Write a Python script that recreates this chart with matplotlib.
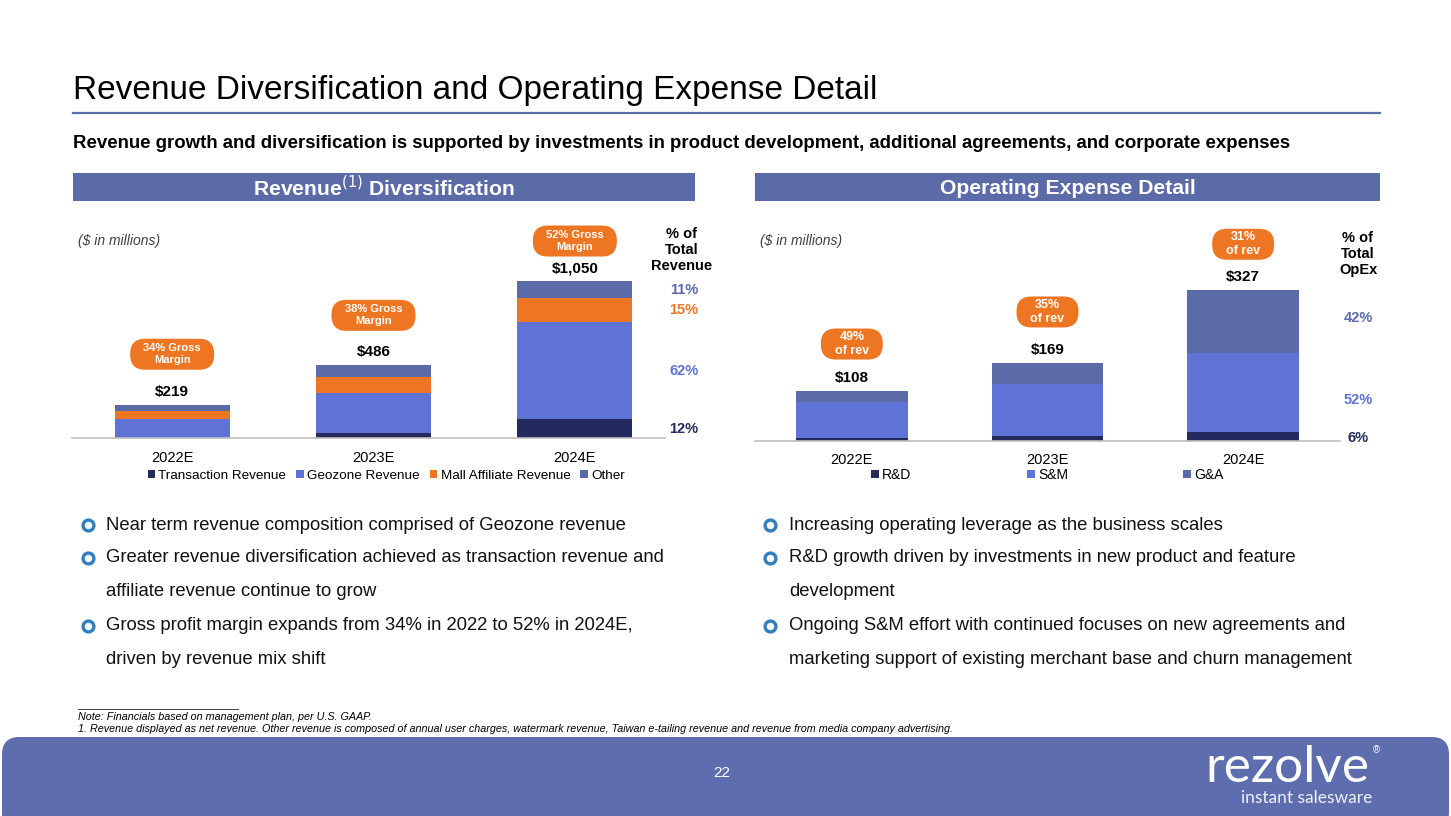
import matplotlib
matplotlib.use("Agg")
import matplotlib.pyplot as plt
import matplotlib.transforms as mtransforms
from matplotlib.patches import FancyBboxPatch, Rectangle
from matplotlib.lines import Line2D

plt.rcParams['font.family'] = ['Liberation Sans', 'DejaVu Sans']

# ---------------- data ----------------
years = ["2022E", "2023E", "2024E"]

rev_series = ["Transaction Revenue", "Geozone Revenue", "Mall Affiliate Revenue", "Other"]
rev_transaction = [2, 31, 126]
rev_geozone = [126, 272, 651]
rev_mall = [51, 106, 158]
rev_other = [40, 77, 115]
rev_totals = ["$219", "$486", "$1,050"]
rev_margin = ["34% Gross\nMargin", "38% Gross\nMargin", "52% Gross\nMargin"]
rev_pct = ["12%", "62%", "15%", "11%"]

opex_series = ["R&D", "S&M", "G&A"]
opex_rd = [6, 11, 20]
opex_sm = [79, 113, 170]
opex_ga = [23, 45, 137]
opex_totals = ["$108", "$169", "$327"]
opex_of_rev = ["49%\nof rev", "35%\nof rev", "31%\nof rev"]
opex_pct = ["6%", "52%", "42%"]

left_bullets = [
    ("Near term revenue composition comprised of Geozone revenue", True),
    ("Greater revenue diversification achieved as transaction revenue and", True),
    ("affiliate revenue continue to grow", False),
    ("Gross profit margin expands from 34% in 2022 to 52% in 2024E,", True),
    ("driven by revenue mix shift", False),
]
right_bullets = [
    ("Increasing operating leverage as the business scales", True),
    ("R&D growth driven by investments in new product and feature", True),
    ("development", False),
    ("Ongoing S&M effort with continued focuses on new agreements and", True),
    ("marketing support of existing merchant base and churn management", False),
]

# ---------------- style ----------------
NAVY = "#252A5E"
GEO = "#5F72D6"
ORANGE = "#EE7623"
OTHER = "#5B6BA8"
BAND = "#5D6DAE"
BULLET = "#2F7FC1"

W, H = 1451, 816
fig = plt.figure(figsize=(W / 100, H / 100), dpi=100)
fig.patch.set_facecolor("white")


def fx(x):
    return x / W


def fy(y):
    return 1 - y / H


def ftext(x, y, s, **kw):
    fig.text(fx(x), fy(y), s, **kw)


# title
ftext(73, 90, "Revenue Diversification and Operating Expense Detail", fontsize=24,
      va="center", ha="left", color="black")
fig.add_artist(Line2D([fx(73), fx(1380)], [fy(113), fy(113)], color=OTHER, lw=1.6))
ftext(73, 144, "Revenue growth and diversification is supported by investments in product development, additional agreements, and corporate expenses",
      fontsize=13.4, fontweight="bold", va="center", ha="left")

# section headers
for x0, x1, label in [(73, 695, r"Revenue$^{(1)}$ Diversification"),
                      (755, 1380, "Operating Expense Detail")]:
    fig.add_artist(Rectangle((fx(x0), fy(201)), fx(x1 - x0), (201 - 173) / H,
                             transform=fig.transFigure, facecolor=OTHER, edgecolor="none"))
    ftext((x0 + x1) / 2, 188, label, fontsize=15.2, fontweight="bold", color="white",
          ha="center", va="center")

# ---------------- charts ----------------
def make_axes(x_left, x_right, base_y, top_y, centers, px_per_unit):
    ax = fig.add_axes([fx(x_left), fy(base_y), fx(x_right - x_left), (base_y - top_y) / H])
    sp = centers[1] - centers[0]
    ax.set_xlim((x_left - centers[0]) / sp, 2 + (x_right - centers[2]) / sp)
    ax.set_ylim(0, (base_y - top_y) / px_per_unit)
    for s in ["top", "right", "left"]:
        ax.spines[s].set_visible(False)
    ax.spines["bottom"].set_color("#BFBFBF")
    ax.spines["bottom"].set_linewidth(1.2)
    ax.set_yticks([])
    ax.set_xticks(range(3))
    ax.set_xticklabels(years, fontsize=10.5)
    ax.tick_params(axis="x", length=0, pad=9)
    ax.patch.set_alpha(0)
    return ax


def bubble(ax, x, y, dy_px, w_px, h_px, text, fs):
    trans = fig.dpi_scale_trans + mtransforms.ScaledTranslation(x, y, ax.transData)
    p = FancyBboxPatch((-w_px / 200, dy_px / 100 - h_px / 200), w_px / 100, h_px / 100,
                       boxstyle="round,pad=0,rounding_size=0.15", transform=trans,
                       facecolor=ORANGE, edgecolor="none", clip_on=False)
    ax.add_artist(p)
    ax.annotate(text, (x, y), xytext=(0, dy_px), textcoords="offset pixels",
                ha="center", va="center", fontsize=fs, fontweight="bold", color="white",
                linespacing=1.25, annotation_clip=False)


# left: revenue
axL = make_axes(72, 665, 438, 225, [172, 373, 575], 0.1495)
xs = range(3)
bw = 0.57
b = [0, 0, 0]
rev_vals = [rev_transaction, rev_geozone, rev_mall, rev_other]
rev_cols = [NAVY, GEO, ORANGE, OTHER]
for name, vals, c in zip(rev_series, rev_vals, rev_cols):
    axL.bar(xs, vals, bw, bottom=b, color=c, label=name, edgecolor="none")
    b = [bi + v for bi, v in zip(b, vals)]
rev_sum = b
rev_bub_dy = [51, 50, 40]
for i in range(3):
    axL.annotate(rev_totals[i], (i, rev_sum[i]), xytext=(0, 13), textcoords="offset pixels",
                 ha="center", va="center", fontsize=11, fontweight="bold")
    bubble(axL, i, rev_sum[i], rev_bub_dy[i], 84, 31, rev_margin[i], 8)

# percent column for 2024E segments
bot = 0
for vals, c, pct in zip(rev_vals, rev_cols, rev_pct):
    mid = bot + vals[2] / 2
    bot += vals[2]
    axL.annotate(pct, (2, mid), xytext=(684 - 575, 0), textcoords="offset pixels",
                 ha="center", va="center", fontsize=10.5, fontweight="bold", color=c,
                 annotation_clip=False)
ftext(682, 250, "% of\nTotal\nRevenue", ha="center", va="center", fontsize=10.5,
      fontweight="bold", linespacing=1.15)
ftext(78, 241, "($ in millions)", fontsize=10, style="italic", color="#404040", va="center")

legL = axL.legend(loc="upper center", bbox_to_anchor=(0.53, -0.125), ncol=4, frameon=False,
                  fontsize=9.7, handlelength=0.55, handleheight=0.55, handletextpad=0.25,
                  columnspacing=0.75, borderaxespad=0)

# right: opex
axR = make_axes(755, 1340, 440.7, 225, [852, 1048, 1243], 0.46)
b = [0, 0, 0]
opex_vals = [opex_rd, opex_sm, opex_ga]
opex_cols = [NAVY, GEO, OTHER]
for name, vals, c in zip(opex_series, opex_vals, opex_cols):
    axR.bar(xs, vals, bw, bottom=b, color=c, label=name, edgecolor="none")
    b = [bi + v for bi, v in zip(b, vals)]
opex_sum = b
opex_bub_dy = [47, 51, 46]
for i in range(3):
    axR.annotate(opex_totals[i], (i, opex_sum[i]), xytext=(0, 13), textcoords="offset pixels",
                 ha="center", va="center", fontsize=11, fontweight="bold")
    bubble(axR, i, opex_sum[i], opex_bub_dy[i], 62, 31, opex_of_rev[i], 9)
bot = 0
pct_frac = {"6%": 0.3, "52%": 0.4, "42%": 0.56}
for vals, c, pct in zip(opex_vals, opex_cols, opex_pct):
    yy = bot + vals[2] * pct_frac[pct]
    bot += vals[2]
    axR.annotate(pct, (2, yy), xytext=(1358 - 1243, 0), textcoords="offset pixels",
                 ha="center", va="center", fontsize=10.5, fontweight="bold", color=c,
                 annotation_clip=False)
ftext(1358, 254, "% of\nTotal\nOpEx", ha="center", va="center", fontsize=10.5,
      fontweight="bold", linespacing=1.15)
ftext(760, 241, "($ in millions)", fontsize=10, style="italic", color="#404040", va="center")
axR.tick_params(axis="x", pad=9)
legR = axR.legend(loc="upper center", bbox_to_anchor=(0.5, -0.1), ncol=3, frameon=False,
                  fontsize=10, handlelength=0.55, handleheight=0.55, handletextpad=0.25,
                  columnspacing=8.3, borderaxespad=0)

# ---------------- bullets ----------------
line_ys = [525, 558, 592, 626, 660]
for (bx, tx, items) in [(88, 106, left_bullets), (770, 789, right_bullets)]:
    for (txt, has_b), yy in zip(items, line_ys):
        if has_b:
            fig.add_artist(Line2D([fx(bx)], [fy(yy)], marker="o", markersize=7.8,
                                  markerfacecolor="white", markeredgecolor=BULLET,
                                  markeredgewidth=2.4, transform=fig.transFigure))
        ftext(tx, yy, txt, fontsize=13.35, va="center", ha="left", color="#111111")

# ---------------- footnotes ----------------
fig.add_artist(Line2D([fx(78), fx(238)], [fy(709), fy(709)], color="#444444", lw=0.7))
ftext(78, 717, "Note: Financials based on management plan, per U.S. GAAP.", fontsize=7.75,
      style="italic", va="center")
ftext(78, 729, "1. Revenue displayed as net revenue. Other revenue is composed of annual user charges, watermark revenue, Taiwan e-tailing revenue and revenue from media company advertising.",
      fontsize=7.75, style="italic", va="center")

# ---------------- footer band ----------------
fig.add_artist(FancyBboxPatch((fx(2), fy(830)), fx(1447), (830 - 737) / H,
                              boxstyle="round,pad=0,rounding_size=0.012",
                              transform=fig.transFigure, facecolor=BAND, edgecolor="none",
                              mutation_aspect=W / H))
ftext(722, 773, "22", fontsize=11, color="white", ha="center", va="center")
ftext(1287, 768, "rezolve", fontsize=37, color="white", ha="center", va="center",
      family=["Lato", "Liberation Sans", "DejaVu Sans"])
ftext(1376, 750, "®", fontsize=7, color="white", ha="center", va="center")
ftext(1307, 798, "instant salesware", fontsize=12.5, color="#EEF0FA", ha="center", va="center",
      family=["Lato", "Liberation Sans", "DejaVu Sans"])

fig.savefig("out.png", dpi=100, facecolor="white")
